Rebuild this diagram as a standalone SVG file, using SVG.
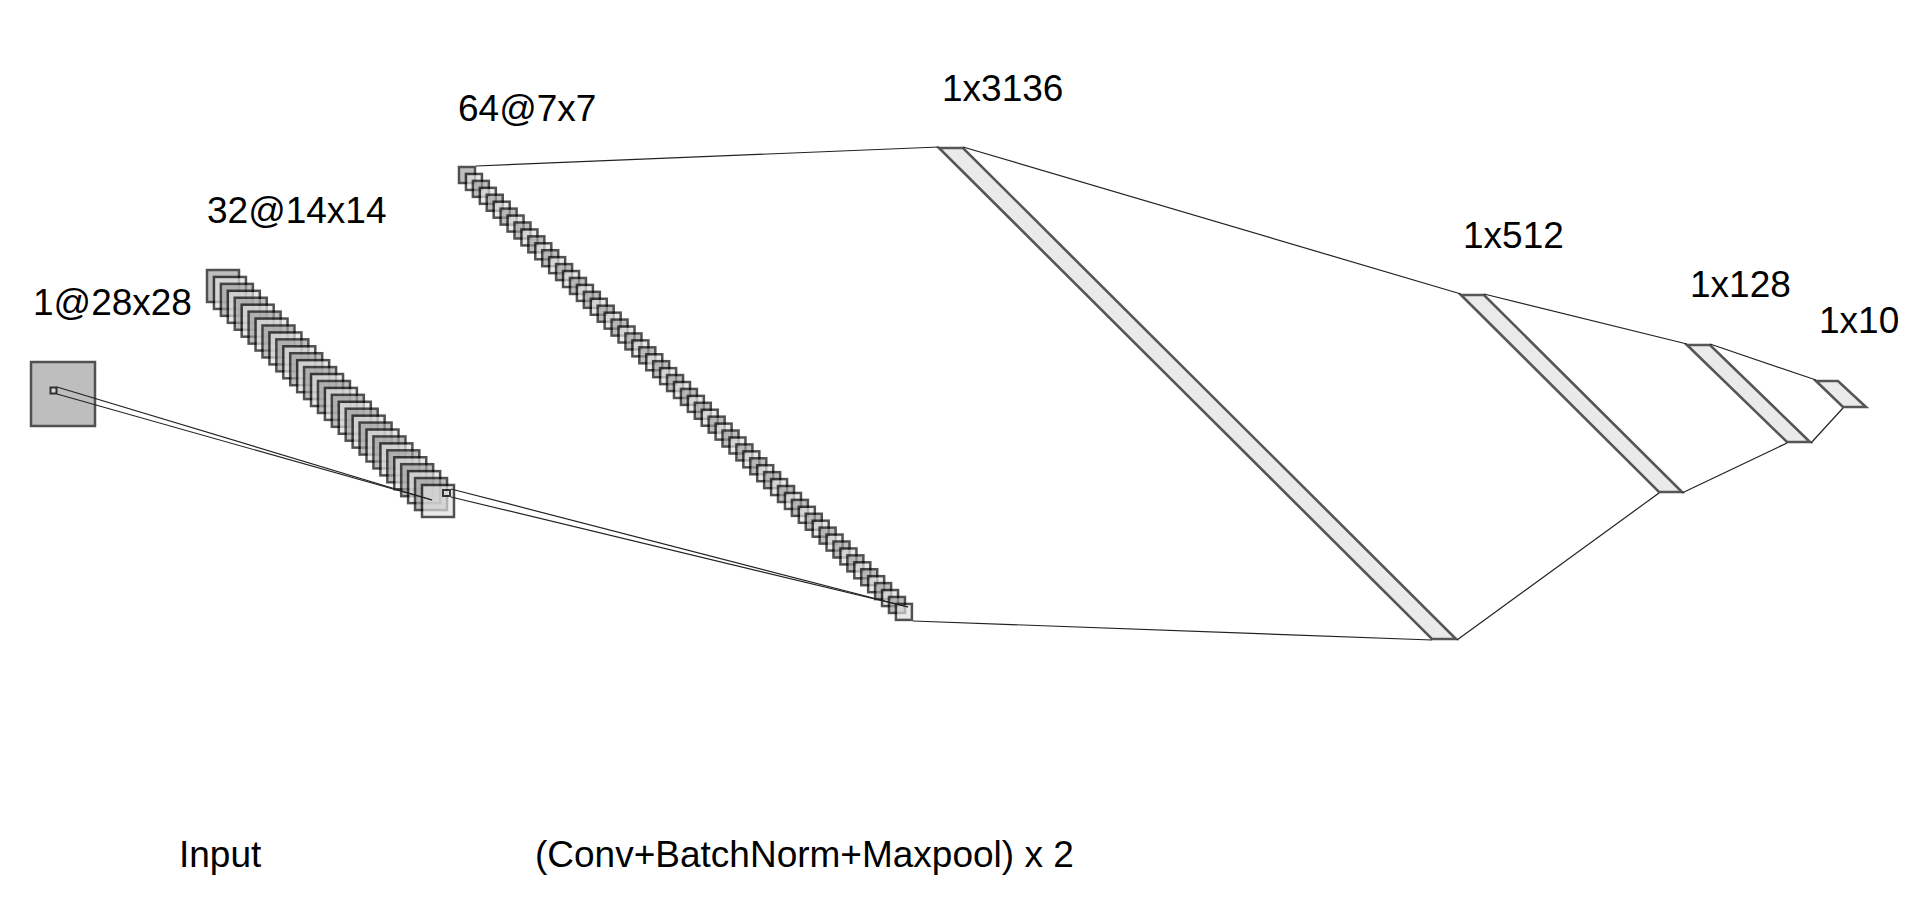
<svg xmlns="http://www.w3.org/2000/svg" width="1912" height="900" viewBox="0 0 1912 900">
<style>
  .a { fill:#a0a0a0; stroke:#000; stroke-width:2.5; opacity:0.68; }
  .b { fill:#e0e0e0; stroke:#000; stroke-width:2.5; opacity:0.68; }
  .dense { fill:#e0e0e0; stroke:#000; stroke-width:2.6; opacity:0.66; stroke-linejoin:miter; }
  .k { fill:#e0e0e0; stroke:#000; stroke-width:2; opacity:0.75; }
  .lbl { font-family:"Liberation Sans", Arial, sans-serif; font-size:37px; fill:#000; }
  #connectors line { stroke:#222; stroke-width:1.2; }
</style>
<rect width="1912" height="900" fill="#fff"/>

<g id="input">
  <rect class="a" x="31" y="362" width="64" height="64"/>
  <rect class="k" x="50.5" y="387.5" width="6" height="6"/>
  <text class="lbl" x="33" y="315">1@28x28</text>
</g>

<g id="conv1">
  <rect class="a" x="207" y="270" width="32" height="32"/>
  <rect class="b" x="213.94" y="276.94" width="32" height="32"/>
  <rect class="a" x="220.87" y="283.87" width="32" height="32"/>
  <rect class="b" x="227.81" y="290.81" width="32" height="32"/>
  <rect class="a" x="234.74" y="297.74" width="32" height="32"/>
  <rect class="b" x="241.68" y="304.68" width="32" height="32"/>
  <rect class="a" x="248.61" y="311.61" width="32" height="32"/>
  <rect class="b" x="255.55" y="318.55" width="32" height="32"/>
  <rect class="a" x="262.48" y="325.48" width="32" height="32"/>
  <rect class="b" x="269.42" y="332.42" width="32" height="32"/>
  <rect class="a" x="276.35" y="339.35" width="32" height="32"/>
  <rect class="b" x="283.29" y="346.29" width="32" height="32"/>
  <rect class="a" x="290.22" y="353.22" width="32" height="32"/>
  <rect class="b" x="297.16" y="360.16" width="32" height="32"/>
  <rect class="a" x="304.09" y="367.09" width="32" height="32"/>
  <rect class="b" x="311.03" y="374.03" width="32" height="32"/>
  <rect class="a" x="317.96" y="380.96" width="32" height="32"/>
  <rect class="b" x="324.9" y="387.9" width="32" height="32"/>
  <rect class="a" x="331.83" y="394.83" width="32" height="32"/>
  <rect class="b" x="338.77" y="401.77" width="32" height="32"/>
  <rect class="a" x="345.7" y="408.7" width="32" height="32"/>
  <rect class="b" x="352.64" y="415.64" width="32" height="32"/>
  <rect class="a" x="359.57" y="422.57" width="32" height="32"/>
  <rect class="b" x="366.51" y="429.51" width="32" height="32"/>
  <rect class="a" x="373.44" y="436.44" width="32" height="32"/>
  <rect class="b" x="380.38" y="443.38" width="32" height="32"/>
  <rect class="a" x="387.31" y="450.31" width="32" height="32"/>
  <rect class="b" x="394.25" y="457.25" width="32" height="32"/>
  <rect class="a" x="401.18" y="464.18" width="32" height="32"/>
  <rect class="b" x="408.12" y="471.12" width="32" height="32"/>
  <rect class="a" x="415.05" y="478.05" width="32" height="32"/>
  <rect class="b" x="421.99" y="484.99" width="32" height="32"/>
  <rect class="k" x="443" y="490" width="7" height="6"/>
  <text class="lbl" x="207" y="223">32@14x14</text>
</g>

<g id="conv2">
  <rect class="a" x="459" y="167" width="16" height="16"/>
  <rect class="b" x="465.94" y="173.94" width="16" height="16"/>
  <rect class="a" x="472.87" y="180.87" width="16" height="16"/>
  <rect class="b" x="479.81" y="187.81" width="16" height="16"/>
  <rect class="a" x="486.74" y="194.74" width="16" height="16"/>
  <rect class="b" x="493.68" y="201.68" width="16" height="16"/>
  <rect class="a" x="500.61" y="208.61" width="16" height="16"/>
  <rect class="b" x="507.55" y="215.55" width="16" height="16"/>
  <rect class="a" x="514.48" y="222.48" width="16" height="16"/>
  <rect class="b" x="521.42" y="229.42" width="16" height="16"/>
  <rect class="a" x="528.35" y="236.35" width="16" height="16"/>
  <rect class="b" x="535.29" y="243.29" width="16" height="16"/>
  <rect class="a" x="542.22" y="250.22" width="16" height="16"/>
  <rect class="b" x="549.16" y="257.16" width="16" height="16"/>
  <rect class="a" x="556.09" y="264.09" width="16" height="16"/>
  <rect class="b" x="563.03" y="271.03" width="16" height="16"/>
  <rect class="a" x="569.96" y="277.96" width="16" height="16"/>
  <rect class="b" x="576.9" y="284.9" width="16" height="16"/>
  <rect class="a" x="583.83" y="291.83" width="16" height="16"/>
  <rect class="b" x="590.77" y="298.77" width="16" height="16"/>
  <rect class="a" x="597.7" y="305.7" width="16" height="16"/>
  <rect class="b" x="604.64" y="312.64" width="16" height="16"/>
  <rect class="a" x="611.57" y="319.57" width="16" height="16"/>
  <rect class="b" x="618.51" y="326.51" width="16" height="16"/>
  <rect class="a" x="625.44" y="333.44" width="16" height="16"/>
  <rect class="b" x="632.38" y="340.38" width="16" height="16"/>
  <rect class="a" x="639.31" y="347.31" width="16" height="16"/>
  <rect class="b" x="646.25" y="354.25" width="16" height="16"/>
  <rect class="a" x="653.18" y="361.18" width="16" height="16"/>
  <rect class="b" x="660.12" y="368.12" width="16" height="16"/>
  <rect class="a" x="667.05" y="375.05" width="16" height="16"/>
  <rect class="b" x="673.99" y="381.99" width="16" height="16"/>
  <rect class="a" x="680.92" y="388.92" width="16" height="16"/>
  <rect class="b" x="687.86" y="395.86" width="16" height="16"/>
  <rect class="a" x="694.79" y="402.79" width="16" height="16"/>
  <rect class="b" x="701.73" y="409.73" width="16" height="16"/>
  <rect class="a" x="708.66" y="416.66" width="16" height="16"/>
  <rect class="b" x="715.6" y="423.6" width="16" height="16"/>
  <rect class="a" x="722.53" y="430.53" width="16" height="16"/>
  <rect class="b" x="729.47" y="437.47" width="16" height="16"/>
  <rect class="a" x="736.4" y="444.4" width="16" height="16"/>
  <rect class="b" x="743.34" y="451.34" width="16" height="16"/>
  <rect class="a" x="750.27" y="458.27" width="16" height="16"/>
  <rect class="b" x="757.21" y="465.21" width="16" height="16"/>
  <rect class="a" x="764.14" y="472.14" width="16" height="16"/>
  <rect class="b" x="771.08" y="479.08" width="16" height="16"/>
  <rect class="a" x="778.01" y="486.01" width="16" height="16"/>
  <rect class="b" x="784.95" y="492.95" width="16" height="16"/>
  <rect class="a" x="791.88" y="499.88" width="16" height="16"/>
  <rect class="b" x="798.82" y="506.82" width="16" height="16"/>
  <rect class="a" x="805.75" y="513.75" width="16" height="16"/>
  <rect class="b" x="812.69" y="520.69" width="16" height="16"/>
  <rect class="a" x="819.62" y="527.62" width="16" height="16"/>
  <rect class="b" x="826.56" y="534.56" width="16" height="16"/>
  <rect class="a" x="833.49" y="541.49" width="16" height="16"/>
  <rect class="b" x="840.43" y="548.43" width="16" height="16"/>
  <rect class="a" x="847.36" y="555.36" width="16" height="16"/>
  <rect class="b" x="854.3" y="562.3" width="16" height="16"/>
  <rect class="a" x="861.23" y="569.23" width="16" height="16"/>
  <rect class="b" x="868.17" y="576.17" width="16" height="16"/>
  <rect class="a" x="875.1" y="583.1" width="16" height="16"/>
  <rect class="b" x="882.04" y="590.04" width="16" height="16"/>
  <rect class="a" x="888.97" y="596.97" width="16" height="16"/>
  <rect class="b" x="895.91" y="603.91" width="16" height="16"/>
  <text class="lbl" x="458" y="121">64@7x7</text>
</g>

<g id="dense1">
  <polygon class="dense" points="939,148 963,148 1456,639 1432,639"/>
  <text class="lbl" x="942" y="101">1x3136</text>
</g>
<g id="dense2">
  <polygon class="dense" points="1461,295 1484,295 1682,492 1659,492"/>
  <text class="lbl" x="1463" y="248">1x512</text>
</g>
<g id="dense3">
  <polygon class="dense" points="1687,345 1710,345 1810,442 1787,442"/>
  <text class="lbl" x="1690" y="297">1x128</text>
</g>
<g id="dense4">
  <polygon class="dense" points="1816,381 1838,381 1866,407 1843,407"/>
  <text class="lbl" x="1819" y="333">1x10</text>
</g>

<g id="connectors">
  <line x1="57" y1="387" x2="432" y2="500"/>
  <line x1="57" y1="394" x2="432" y2="500"/>
  <line x1="451" y1="489" x2="908" y2="607"/>
  <line x1="451" y1="497" x2="908" y2="607"/>
  <line x1="476" y1="166" x2="939" y2="147"/>
  <line x1="913" y1="621" x2="1432" y2="640"/>
  <line x1="963" y1="147" x2="1461" y2="294"/>
  <line x1="1457" y1="640" x2="1659" y2="493"/>
  <line x1="1484" y1="294" x2="1687" y2="344"/>
  <line x1="1682" y1="493" x2="1787" y2="443"/>
  <line x1="1710" y1="344" x2="1816" y2="380"/>
  <line x1="1811" y1="443" x2="1843" y2="408"/>
</g>

<g id="captions">
  <text class="lbl" x="179" y="867">Input</text>
  <text class="lbl" x="535" y="867">(Conv+BatchNorm+Maxpool) x 2</text>
</g>
</svg>
